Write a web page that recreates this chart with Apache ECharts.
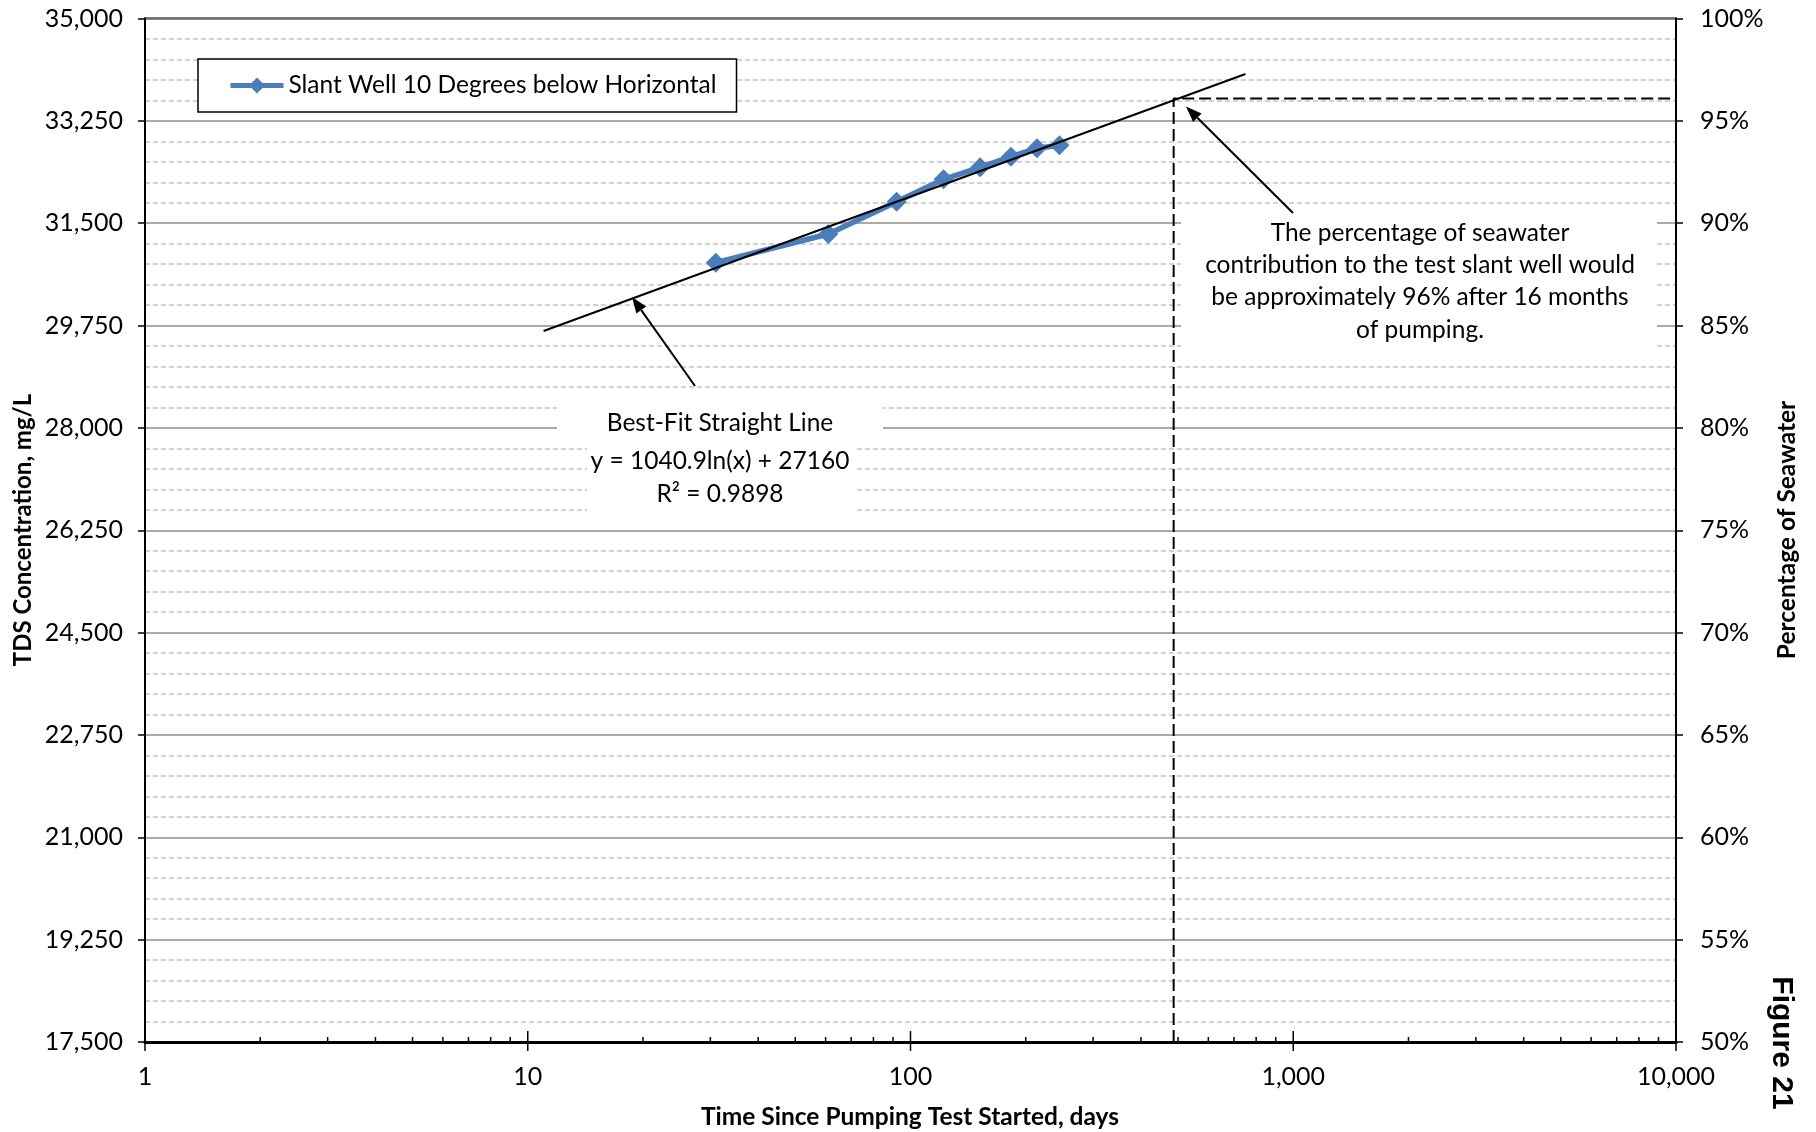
<!DOCTYPE html>
<html><head><meta charset="utf-8">
<script src="https://cdn.jsdelivr.net/npm/echarts@6/dist/echarts.min.js"></script>
<style>html,body{margin:0;padding:0;background:#fff}#c{width:1816px;height:1132px}</style>
</head><body><div id="c"></div>
<script>
const seriesName = 'Slant Well 10 Degrees below Horizontal';
const days = [31, 61, 92, 122, 152, 183, 214, 245];
const tds = [30825, 31315, 31868, 32250, 32456, 32637, 32780, 32832];
const trendDays = [11, 750];
const trendTds = [29656, 34050];
const projDays = [487, 487, 10000];
const projTds = [17500, 33632, 33632];
const xMajorTicks = [1, 10, 100, 1000, 10000];
const xMinorTicks = [2,3,4,5,6,7,8,9,20,30,40,50,60,70,80,90,200,300,400,500,600,700,800,900,2000,3000,4000,5000,6000,7000,8000,9000];
const tdsMin = 17500, tdsMax = 35000, tdsStep = 1750;
const pctMin = 50, pctMax = 100, pctStep = 5;
const fitLabel = ['Best-Fit Straight Line', 'y = 1040.9ln(x) + 27160', 'R\u00b2 = 0.9898'];
const noteLines = ['The percentage of seawater', 'contribution to the test slant well would', 'be approximately 96% after 16 months', 'of pumping.'];

const FONT = 'Lato';
const chart = echarts.init(document.getElementById('c'), null, {renderer: 'canvas'});
const fmt = v => String(v).replace(/\B(?=(\d{3})+(?!\d))/g, ',');

function tickSeries(vals, up, down) {
  return {
    type: 'custom', silent: true, clip: false, z: 5,
    data: vals.map(v => [v, tdsMin]),
    renderItem: function (params, api) {
      const p = api.coord([api.value(0), api.value(1)]);
      return {type: 'line', shape: {x1: p[0], y1: p[1] - up, x2: p[0], y2: p[1] + down},
        style: {stroke: '#000', lineWidth: 1.5}};
    }
  };
}

const option = {
  animation: false,
  backgroundColor: '#fff',
  textStyle: {fontFamily: FONT},
  grid: {left: 145, right: 140, top: 18.5, bottom: 90, show: true, borderColor: '#000', borderWidth: 2, containLabel: false},
  legend: {
    data: [{name: seriesName, lineStyle: {width: 5, color: '#4a7ebb'}}], left: 198, top: 59, orient: 'horizontal',
    borderColor: '#000', borderWidth: 1.5, padding: [14, 20, 14, 30],
    itemWidth: 53, itemHeight: 20, itemGap: 6,
    textStyle: {fontFamily: FONT, fontSize: 24.5, color: '#000', padding: [0, 0, 0, 0]},
    backgroundColor: '#fff'
  },
  xAxis: {
    type: 'log', logBase: 10, min: 1, max: 10000,
    axisLine: {show: true, lineStyle: {color: '#000', width: 3}},
    axisTick: {show: false},
    splitLine: {show: false},
    axisLabel: {fontFamily: FONT, fontSize: 25, color: '#000', margin: 22, formatter: v => fmt(v)}
  },
  yAxis: [{
    type: 'value', min: tdsMin, max: tdsMax, interval: tdsStep, position: 'left',
    axisLine: {show: true, lineStyle: {color: '#000', width: 2}},
    axisTick: {show: true, inside: false, length: 7, lineStyle: {color: '#000', width: 1.5}},
    axisLabel: {fontFamily: FONT, fontSize: 25, color: '#000', margin: 22, formatter: v => fmt(v)},
    splitLine: {show: true, lineStyle: {color: '#8e8e8e', width: 1.5}},
    minorTick: {show: false, splitNumber: 5},
    minorSplitLine: {show: true, lineStyle: {color: '#c4c4c4', width: 1.5, type: [5, 3]}}
  }, {
    type: 'value', min: pctMin, max: pctMax, interval: pctStep, position: 'right',
    axisLine: {show: true, lineStyle: {color: '#000', width: 2}},
    axisTick: {show: true, inside: false, length: 7, lineStyle: {color: '#000', width: 1.5}},
    axisLabel: {fontFamily: FONT, fontSize: 25, color: '#000', margin: 24, formatter: '{value}%'},
    splitLine: {show: false}
  }],
  series: [
    {
      name: 'projection', type: 'line', silent: true, symbol: 'none', z: 3,
      data: projDays.map((d, i) => [d, projTds[i]]),
      lineStyle: {color: '#000', width: 2, type: [12, 5]}
    },
    {
      name: seriesName, type: 'line', symbol: 'diamond', symbolSize: 20, z: 4,
      data: days.map((d, i) => [d, tds[i]]),
      itemStyle: {color: '#4a7ebb'},
      lineStyle: {color: '#4a7ebb', width: 5.5}
    },
    {
      name: 'trend', type: 'line', silent: true, symbol: 'none', z: 6,
      data: trendDays.map((d, i) => [d, trendTds[i]]),
      lineStyle: {color: '#000', width: 2}
    },
    tickSeries(xMajorTicks, 11, 9),
    tickSeries(xMinorTicks, 5, 0)
  ]
};
chart.setOption(option);

function arrow(x1, y1, x2, y2) {
  const ang = Math.atan2(y2 - y1, x2 - x1);
  const L = 16, W = 6;
  const bx = x2 - L * Math.cos(ang), by = y2 - L * Math.sin(ang);
  const px = -Math.sin(ang) * W, py = Math.cos(ang) * W;
  return [
    {type: 'line', z: 200, shape: {x1: x1, y1: y1, x2: bx, y2: by}, style: {stroke: '#000', lineWidth: 2}},
    {type: 'polygon', z: 200, shape: {points: [[x2, y2], [bx + px, by + py], [bx - px, by - py]]}, style: {fill: '#000'}}
  ];
}

const txt = (s, x, y) => ({type: 'text', z: 150, x: x, y: y,
  style: {text: s, fontFamily: FONT, fontSize: 24.5, fill: '#000', align: 'center', verticalAlign: 'middle'}});
const title = (s, x, y, rot, size, fam) => ({type: 'text', z: 150, x: x, y: y, rotation: rot,
  style: {text: s, fontFamily: fam || FONT, fontSize: size, fontWeight: 'bold', fill: '#000', align: 'center', verticalAlign: 'middle'}});

const graphics = [
  {type: 'rect', z: 120, shape: {x: 557, y: 390, width: 326, height: 47}, style: {fill: '#fff'}},
  {type: 'rect', z: 120, shape: {x: 587, y: 437, width: 270, height: 76}, style: {fill: '#fff'}},
  {type: 'rect', z: 120, shape: {x: 1181, y: 213, width: 476, height: 145}, style: {fill: '#fff'}},
  txt(fitLabel[0], 720, 423),
  txt(fitLabel[1], 720, 461),
  txt(fitLabel[2], 720, 494.5),
  txt(noteLines[0], 1420, 233),
  txt(noteLines[1], 1420, 265),
  txt(noteLines[2], 1420, 297.5),
  txt(noteLines[3], 1420, 330),
  ...arrow(695, 386, 632, 297),
  ...arrow(1293, 213, 1186, 106.5),
  title('TDS Concentration, mg/L', 23, 530, Math.PI / 2, 24),
  title('Time Since Pumping Test Started, days', 910, 1117, 0, 24.5),
  title('Percentage of Seawater', 1787, 530, Math.PI / 2, 24.5),
  title('Figure 21', 1781, 1043, -Math.PI / 2, 30, '"Liberation Sans", Arial, sans-serif')
];
chart.setOption({graphic: graphics});
</script>
</body></html>
